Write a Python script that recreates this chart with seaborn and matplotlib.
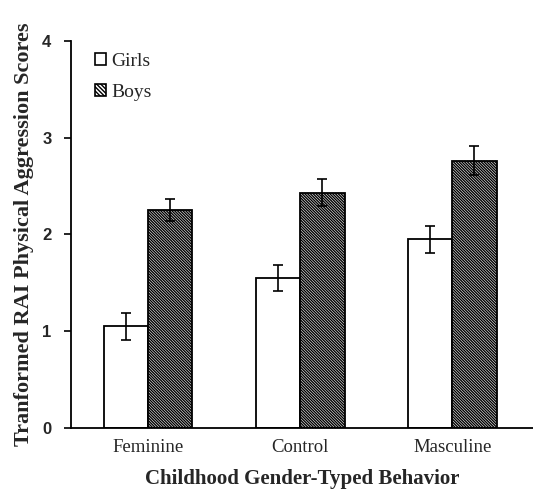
import matplotlib
matplotlib.use("Agg")
import matplotlib.pyplot as plt
import seaborn as sns
import pandas as pd
import numpy as np
from matplotlib.patches import Patch

categories = ["Feminine", "Control", "Masculine"]
groups = ["Girls", "Boys"]
girls_mean = [1.05, 1.55, 1.95]
boys_mean = [2.25, 2.43, 2.76]
girls_err = [0.14, 0.135, 0.14]
boys_err = [0.115, 0.14, 0.15]
yticks = [0, 1, 2, 3, 4]

df = pd.DataFrame({
    "behavior": categories * 2,
    "sex": ["Girls"] * 3 + ["Boys"] * 3,
    "score": girls_mean + boys_mean,
})

sns.set_style("white")
plt.rcParams["hatch.linewidth"] = 1.0
plt.rcParams["hatch.color"] = "black"

fig = plt.figure(figsize=(5.33, 4.92), dpi=100)
ax = fig.add_axes([0.133, 0.130, 0.867, 0.787])

sns.barplot(data=df, x="behavior", y="score", hue="sex", order=categories,
            hue_order=groups, palette=["white", "white"], edgecolor="black",
            linewidth=1.3, width=0.58, errorbar=None, ax=ax, legend=False)

# hatch the Boys bars
for p in ax.patches[3:6]:
    p.set_hatch("\\" * 12)

# error bars placed at bar centers
for p, e in zip(ax.patches[:6], girls_err + boys_err):
    cx = p.get_x() + p.get_width() / 2
    ax.errorbar(cx, p.get_height(), yerr=e, fmt="none", ecolor="black",
                elinewidth=1.2, capsize=3.5, capthick=1.2, zorder=5)

ax.set_ylim(0, 4)
ax.set_xlim(-0.51, 2.53)
ax.set_yticks(yticks)
ax.set_yticklabels([str(t) for t in yticks], fontfamily="Liberation Sans",
                   fontsize=12, fontweight="bold")
ax.tick_params(axis="y", which="major", direction="out", length=5, width=1.2,
               color="black", left=True, pad=9)
ax.tick_params(axis="x", length=0, pad=8)
for lbl in ax.get_xticklabels():
    lbl.set_fontfamily("Liberation Serif")
    lbl.set_fontsize(13.5)

for s in ["top", "right"]:
    ax.spines[s].set_visible(False)
for s in ["left", "bottom"]:
    ax.spines[s].set_color("black")
    ax.spines[s].set_linewidth(1.3)

ax.set_xlabel("Childhood Gender-Typed Behavior", fontfamily="Liberation Serif",
              fontweight="bold", fontsize=15, labelpad=9)
ax.set_ylabel("Tranformed RAI Physical Aggression Scores", fontfamily="Liberation Serif",
              fontweight="bold", fontsize=16, labelpad=6)

handles = [Patch(facecolor="white", edgecolor="black", linewidth=1.2),
           Patch(facecolor="white", edgecolor="black", linewidth=1.2, hatch="\\" * 8)]
ax.legend(handles, groups, loc="upper left", bbox_to_anchor=(0.014, 1.015), frameon=False,
          prop={"family": "Liberation Serif", "size": 14}, handlelength=0.55,
          handleheight=0.55, handletextpad=0.3, labelspacing=0.75)

fig.savefig("out.png", dpi=100)
